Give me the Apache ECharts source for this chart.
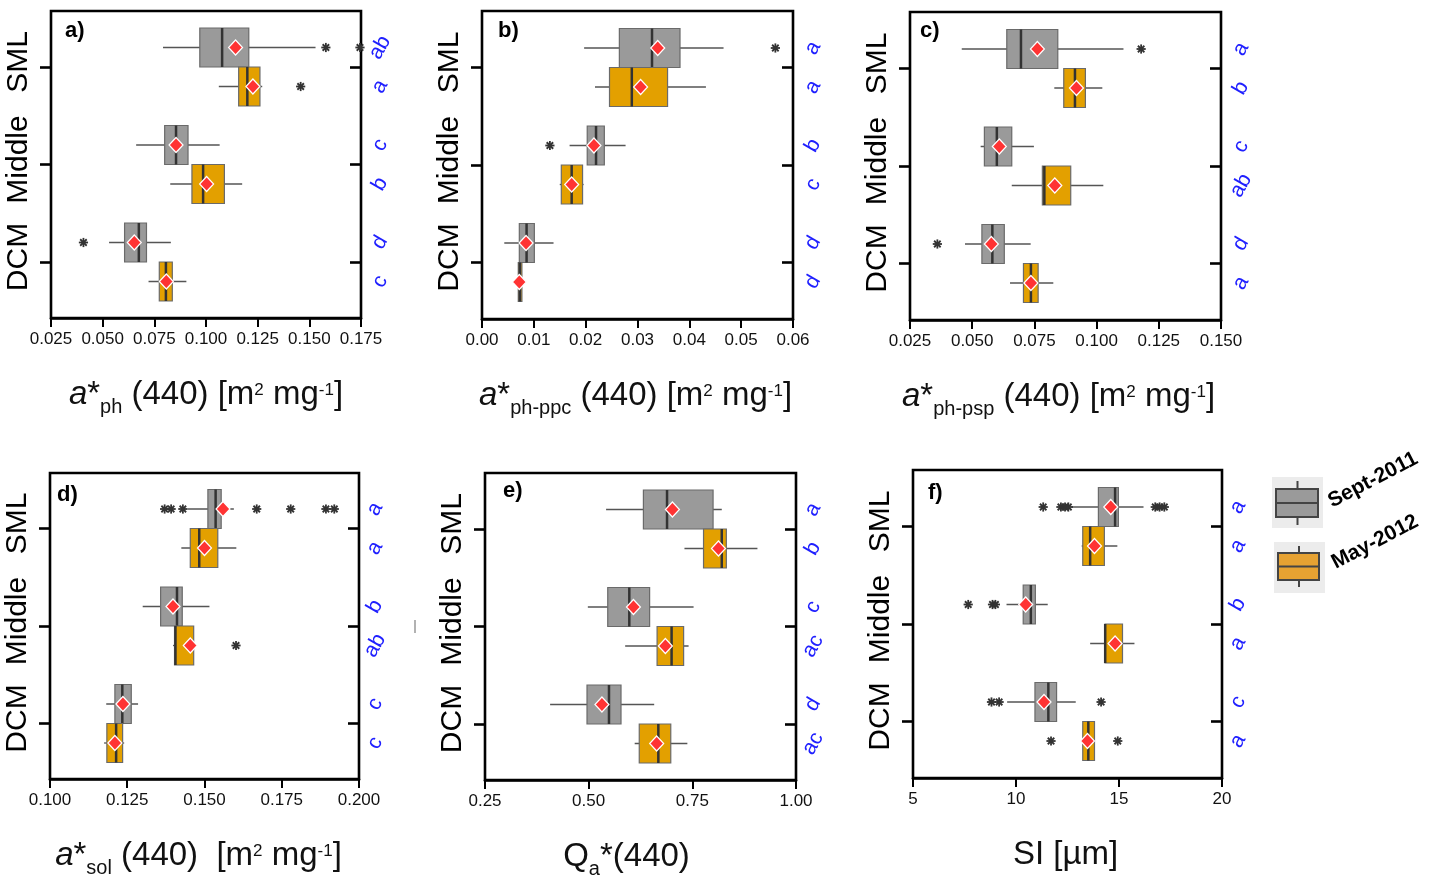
<!DOCTYPE html>
<html><head><meta charset="utf-8">
<script src="https://cdn.jsdelivr.net/npm/echarts@6/dist/echarts.min.js"></script>
<style>html,body{margin:0;padding:0;background:#fff}#c{width:1434px;height:880px}</style>
</head><body><div id="c"></div>
<script>
// ---------------- data ----------------
const categories = ['SML', 'Middle', 'DCM'];
const seasons = ['Sept-2011', 'May-2012'];
// rows: SML-Sept, SML-May, Middle-Sept, Middle-May, DCM-Sept, DCM-May ; [low whisker, q1, median, q3, high whisker]
const aphBox = [
  [0.0792, 0.0970, 0.1078, 0.1207, 0.1530],
  [0.1062, 0.1158, 0.1200, 0.1261, 0.1272],
  [0.0662, 0.0800, 0.0855, 0.0913, 0.1066],
  [0.0827, 0.0932, 0.0986, 0.1089, 0.1175],
  [0.0531, 0.0606, 0.0675, 0.0712, 0.0830],
  [0.0722, 0.0774, 0.0806, 0.0837, 0.0905]
];
const aphMean = [0.1143, 0.1227, 0.0855, 0.1003, 0.0653, 0.0808];
const aphOut = [[0.158, 0.1745], [0.1458], [], [], [0.0407], []];
const aphLetters = ['ab', 'a', 'c', 'b', 'd', 'c'];

const ppcBox = [
  [0.0197, 0.0265, 0.0328, 0.0382, 0.0466],
  [0.0218, 0.0246, 0.0289, 0.0358, 0.0432],
  [0.0169, 0.0203, 0.0220, 0.0236, 0.0277],
  [0.0150, 0.0153, 0.0173, 0.0194, 0.0196],
  [0.0043, 0.0072, 0.0086, 0.0101, 0.0138],
  [0.0069, 0.0070, 0.0073, 0.0077, 0.0077]
];
const ppcMean = [0.0339, 0.0306, 0.0216, 0.0173, 0.0085, 0.0072];
const ppcOut = [[0.0566], [], [0.0131], [], [], []];
const ppcLetters = ['a', 'a', 'b', 'c', 'd', 'd'];

const pspBox = [
  [0.0458, 0.0639, 0.0696, 0.0844, 0.1108],
  [0.0830, 0.0868, 0.0913, 0.0955, 0.1023],
  [0.0534, 0.0549, 0.0599, 0.0659, 0.0748],
  [0.0659, 0.0782, 0.0790, 0.0896, 0.1027],
  [0.0471, 0.0539, 0.0581, 0.0629, 0.0735],
  [0.0652, 0.0706, 0.0736, 0.0765, 0.0826]
];
const pspMean = [0.0762, 0.0919, 0.0609, 0.0832, 0.0577, 0.0736];
const pspOut = [[0.1179], [], [], [], [0.0360], []];
const pspLetters = ['a', 'b', 'c', 'ab', 'd', 'a'];

const solBox = [
  [0.1445, 0.1511, 0.1536, 0.1554, 0.1595],
  [0.1425, 0.1454, 0.1483, 0.1543, 0.1603],
  [0.1300, 0.1358, 0.1411, 0.1428, 0.1516],
  [0.1398, 0.1403, 0.1406, 0.1465, 0.1465],
  [0.1182, 0.1210, 0.1234, 0.1263, 0.1285],
  [0.1175, 0.1184, 0.1214, 0.1235, 0.1240]
];
const solMean = [0.1560, 0.1500, 0.1398, 0.1454, 0.1236, 0.1210];
const solOut = [[0.1371, 0.1392, 0.1430, 0.1669, 0.1779, 0.1893, 0.1920], [], [], [0.1602], [], []];
const solLetters = ['a', 'a', 'b', 'ab', 'c', 'c'];

const qaBox = [
  [0.542, 0.632, 0.689, 0.800, 0.821],
  [0.731, 0.777, 0.821, 0.832, 0.907],
  [0.498, 0.546, 0.598, 0.647, 0.753],
  [0.588, 0.665, 0.700, 0.729, 0.741],
  [0.407, 0.496, 0.549, 0.578, 0.658],
  [0.611, 0.622, 0.668, 0.698, 0.738]
];
const qaMean = [0.702, 0.813, 0.608, 0.685, 0.532, 0.664];
const qaOut = [[], [], [], [], [], []];
const qaLetters = ['a', 'b', 'c', 'ac', 'd', 'ac'];

const siBox = [
  [12.70, 14.00, 14.81, 14.97, 16.19],
  [13.19, 13.24, 13.60, 14.29, 14.92],
  [9.54, 10.35, 10.72, 10.94, 11.54],
  [13.60, 14.32, 14.33, 15.17, 15.75],
  [9.57, 10.92, 11.57, 11.97, 12.90],
  [13.24, 13.24, 13.51, 13.81, 13.81]
];
const siMean = [14.60, 13.81, 10.47, 14.81, 11.36, 13.47];
const siOut = [[11.32, 12.18, 12.38, 12.54, 16.76, 16.97, 17.20], [], [7.68, 8.86, 9.00], [], [8.81, 9.18, 14.13], [11.70, 14.94]];
const siLetters = ['a', 'a', 'b', 'a', 'c', 'a'];

// x-axis ranges and tick steps [min, max, step]
const aphTicks = [0.025, 0.175, 0.025];
const ppcTicks = [0, 0.06, 0.01];
const pspTicks = [0.025, 0.150, 0.025];
const solTicks = [0.100, 0.200, 0.025];
const qaTicks = [0.25, 1.00, 0.25];
const siTicks = [5, 20, 5];

// ---------------- layout / style ----------------
const FONT = '"Liberation Sans", Arial, Helvetica, sans-serif';
const GREY = '#9a9a9a', ORANGE = '#e3a000';
const panels = [
  { tag: 'a)', box: aphBox, mean: aphMean, out: aphOut, letters: aphLetters, ticks: aphTicks, dec: 3,
    L: 51, T: 11, W: 310, H: 307, tagX: 65, tagY: 20, ldx: 19, namePad: [0, 0, 0, 0],
    name: '{i|a}{n|*}{s|ph}{n| (440) [m}{p|2}{n| mg}{p|-1}{n|]}' },
  { tag: 'b)', box: ppcBox, mean: ppcMean, out: ppcOut, letters: ppcLetters, ticks: ppcTicks, dec: 2,
    L: 482, T: 11, W: 311, H: 308, tagX: 498, tagY: 20, ldx: 20, namePad: [0, 4, 0, 0],
    name: '{i|a}{n|*}{s|ph-ppc}{n| (440) [m}{p|2}{n| mg}{p|-1}{n|]}' },
  { tag: 'c)', box: pspBox, mean: pspMean, out: pspOut, letters: pspLetters, ticks: pspTicks, dec: 3,
    L: 910, T: 12, W: 311, H: 308, tagX: 920, tagY: 20, ldx: 20, namePad: [0, 14, 0, 0],
    name: '{i|a}{n|*}{s|ph-psp}{n| (440) [m}{p|2}{n| mg}{p|-1}{n|]}' },
  { tag: 'd)', box: solBox, mean: solMean, out: solOut, letters: solLetters, ticks: solTicks, dec: 3,
    L: 50, T: 473, W: 309, H: 306, tagX: 57, tagY: 484, ldx: 16, namePad: [0, 12, 0, 0],
    name: '{i|a}{n|*}{s|sol}{n| (440)  [m}{p|2}{n| mg}{p|-1}{n|]}' },
  { tag: 'e)', box: qaBox, mean: qaMean, out: qaOut, letters: qaLetters, ticks: qaTicks, dec: 2,
    L: 485, T: 473, W: 311, H: 307, tagX: 503, tagY: 480, ldx: 17, namePad: [0, 28, 0, 0],
    name: '{n|Q}{s|a}{n|*(440)}' },
  { tag: 'f)', box: siBox, mean: siMean, out: siOut, letters: siLetters, ticks: siTicks, dec: 0,
    L: 913, T: 470, W: 309, H: 308, tagX: 928, tagY: 482, ldx: 16, namePad: [0, 4, 0, 0],
    name: '{n|SI [µm]}' }
];

const nameRich = {
  n: { fontSize: 33, fontFamily: FONT, color: '#111', lineHeight: 46, verticalAlign: 'middle' },
  i: { fontSize: 33, fontFamily: FONT, fontStyle: 'italic', color: '#111', lineHeight: 46, verticalAlign: 'middle' },
  s: { fontSize: 20, fontFamily: FONT, color: '#111', height: 21, lineHeight: 21, verticalAlign: 'bottom' },
  p: { fontSize: 17, fontFamily: FONT, color: '#111', height: 37, lineHeight: 37, verticalAlign: 'top' }
};

function asterisk(x, y) {
  const r = 4.6, kids = [];
  for (let a = 0; a < 4; a++) {
    const t = a * Math.PI / 4, dx = r * Math.cos(t), dy = r * Math.sin(t);
    kids.push({ type: 'line', shape: { x1: x - dx, y1: y - dy, x2: x + dx, y2: y + dy },
      style: { stroke: '#333', lineWidth: 1.8 } });
  }
  kids.push({ type: 'circle', shape: { cx: x, cy: y, r: 2 }, style: { fill: '#333' } });
  return kids;
}

function makeRender(p) {
  return function (params, api) {
    const cat = api.value(0), s = api.value(1), k = api.value(8);
    const cs = params.coordSys;
    const band = cs.height / 3;
    const h = band * 0.4;
    const c = api.coord([api.value(2), cat]);
    const yTop = s === 0 ? c[1] - h : c[1];
    const yMid = yTop + h / 2;
    const X = [2, 3, 4, 5, 6, 7].map(d => api.coord([api.value(d), cat])[0]);
    const [xl, xq1, xm, xq3, xh, xmean] = X;
    const kids = [];
    kids.push({ type: 'line', shape: { x1: xl, y1: yMid, x2: xh, y2: yMid },
      style: { stroke: '#555', lineWidth: 1.3 } });
    kids.push({ type: 'rect', shape: { x: xq1, y: yTop, width: Math.max(xq3 - xq1, 1), height: h },
      style: { fill: s === 0 ? GREY : ORANGE, stroke: '#6a6a6a', lineWidth: 1.2 } });
    kids.push({ type: 'line', shape: { x1: xm, y1: yTop, x2: xm, y2: yTop + h },
      style: { stroke: '#333', lineWidth: 2.5 } });
    (p.out[k] || []).forEach(v => {
      const ox = api.coord([v, cat])[0];
      asterisk(ox, yMid).forEach(e => kids.push(e));
    });
    kids.push({ type: 'polygon', shape: { points: [[xmean, yMid - 7.5], [xmean + 7, yMid], [xmean, yMid + 7.5], [xmean - 7, yMid]] },
      style: { fill: '#ff3333', stroke: '#ffffff', lineWidth: 1.2 } });
    kids.push({ type: 'text', x: cs.x + cs.width + p.ldx, y: yMid, rotation: Math.PI / 3,
      style: { text: p.letters[k], fill: '#2020ff', fontSize: 21, fontFamily: FONT, align: 'center', verticalAlign: 'middle' } });
    return { type: 'group', children: kids };
  };
}

const grid = [], xAxis = [], yAxis = [], series = [], title = [];
panels.forEach((p, idx) => {
  const pad = (p.H - 292.5) / 2;
  const g0 = idx * 2, g1 = idx * 2 + 1;
  grid.push({ left: p.L, top: p.T, width: p.W, height: p.H, show: true, borderColor: '#000', borderWidth: 2.6,
    backgroundColor: 'transparent', containLabel: false, outerBoundsMode: 'none' });
  grid.push({ left: p.L, top: p.T + pad, width: p.W, height: p.H - 2 * pad, show: false,
    containLabel: false, outerBoundsMode: 'none' });
  const [mn, mx, step] = p.ticks;
  xAxis.push({
    gridIndex: g0, type: 'value', min: mn, max: mx, interval: step,
    axisLine: { show: true, lineStyle: { color: '#000', width: 2.6 } },
    axisTick: { show: true, length: 9, lineStyle: { color: '#000', width: 2 } },
    axisLabel: { fontSize: 17, color: '#111', margin: 13, fontFamily: FONT,
      formatter: v => Number(v).toFixed(p.dec) },
    splitLine: { show: false },
    name: p.name, nameLocation: 'middle', nameGap: 54,
    nameTextStyle: { align: 'center', verticalAlign: 'top', padding: p.namePad, rich: nameRich }
  });
  xAxis.push({ gridIndex: g1, type: 'value', min: mn, max: mx, show: false });
  yAxis.push({ gridIndex: g0, type: 'value', show: false });
  yAxis.push({
    gridIndex: g1, type: 'category', data: categories, inverse: true,
    axisLine: { show: false },
    axisTick: { show: true, alignWithLabel: true, length: 11, lineStyle: { color: '#000', width: 2.6 } },
    axisLabel: { interval: 0, rotate: 90, fontSize: 30, margin: 17, color: '#000', fontFamily: FONT, padding: [0, 0, 0, 10] },
    splitLine: { show: false }
  });
  yAxis.push({
    gridIndex: g1, type: 'category', data: categories, inverse: true, position: 'right',
    axisLine: { show: false },
    axisTick: { show: true, inside: true, alignWithLabel: true, length: 11, lineStyle: { color: '#000', width: 2.6 } },
    axisLabel: { show: false }, splitLine: { show: false }
  });
  const data = p.box.map((b, i) => [Math.floor(i / 2), i % 2, b[0], b[1], b[2], b[3], b[4], p.mean[i], i]);
  series.push({
    type: 'custom', name: p.tag, xAxisIndex: g1, yAxisIndex: idx * 3 + 1, clip: false,
    encode: { x: [2, 3, 4, 5, 6, 7], y: 0 },
    renderItem: makeRender(p), data: data, animation: false
  });
  title.push({ text: p.tag, left: p.tagX, top: p.tagY, padding: 0,
    textStyle: { fontSize: 22, fontWeight: 'bold', color: '#000', fontFamily: FONT } });
});

// legend (drawn as graphic keys)
function legendKey(bx, by, fill, rx, ry, rw, rh, cx, w1, w2) {
  return [
    { type: 'rect', shape: { x: bx, y: by, width: 51, height: 51 }, style: { fill: '#ececec' } },
    { type: 'line', shape: { x1: cx, y1: w1, x2: cx, y2: w2 }, style: { stroke: '#444', lineWidth: 2 } },
    { type: 'rect', shape: { x: rx, y: ry, width: rw, height: rh }, style: { fill: fill, stroke: '#444', lineWidth: 2 } },
    { type: 'line', shape: { x1: rx, y1: ry + rh / 2, x2: rx + rw, y2: ry + rh / 2 }, style: { stroke: '#444', lineWidth: 2 } }
  ];
}
const graphic = [].concat(
  legendKey(1272, 477, '#9a9a9a', 1276, 489, 42, 28, 1297.5, 481, 525),
  legendKey(1274, 542, '#e6a232', 1278, 553, 41, 27, 1299, 546, 587),
  [
    { type: 'text', x: 1373, y: 480, rotation: 0.48,
      style: { text: seasons[0], fontSize: 21, fontWeight: 'bold', fill: '#000', fontFamily: FONT, align: 'center', verticalAlign: 'middle' } },
    { type: 'text', x: 1375, y: 542, rotation: 0.48,
      style: { text: seasons[1], fontSize: 21, fontWeight: 'bold', fill: '#000', fontFamily: FONT, align: 'center', verticalAlign: 'middle' } },
    { type: 'line', shape: { x1: 415, y1: 620, x2: 415, y2: 633 }, style: { stroke: '#999', lineWidth: 1.5 } }
  ]
);

const chart = echarts.init(document.getElementById('c'));
chart.setOption({
  animation: false,
  backgroundColor: '#fff',
  textStyle: { fontFamily: FONT },
  title: title,
  grid: grid, xAxis: xAxis, yAxis: yAxis, series: series,
  graphic: graphic
});
</script></body></html>
